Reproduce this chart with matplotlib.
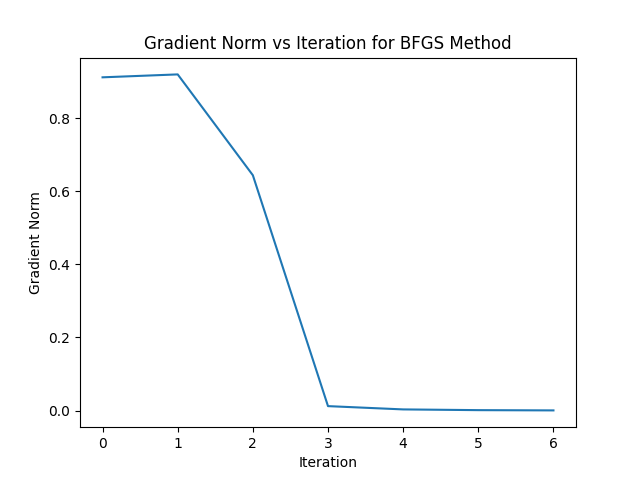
import matplotlib
matplotlib.use("Agg")
import matplotlib.pyplot as plt

iterations = [0, 1, 2, 3, 4, 5, 6]
grad_norm = [0.912, 0.920, 0.644, 0.012, 0.003, 0.001, 0.0003]

fig, ax = plt.subplots(figsize=(6.4, 4.8), dpi=100)
ax.plot(iterations, grad_norm)
ax.set_title("Gradient Norm vs Iteration for BFGS Method")
ax.set_xlabel("Iteration")
ax.set_ylabel("Gradient Norm")
fig.savefig("out.png")
